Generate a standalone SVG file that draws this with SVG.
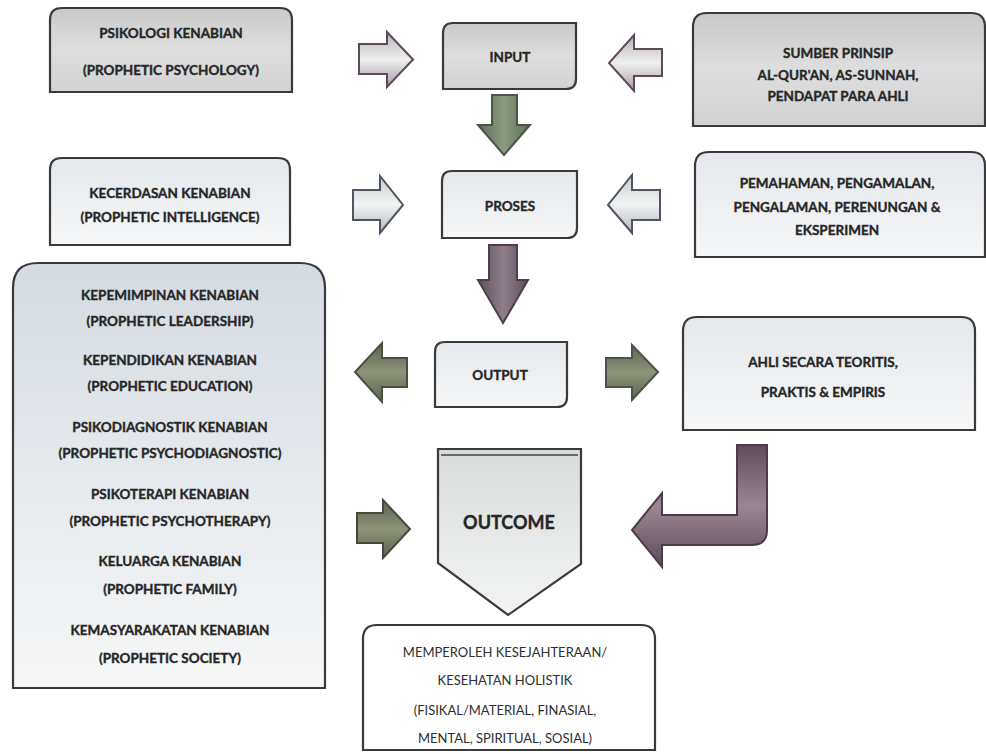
<svg xmlns="http://www.w3.org/2000/svg" width="986" height="754" viewBox="0 0 986 754">
<style>
.box{stroke:#3a3a3a;stroke-width:2.2}
.t{font-family:Lato,"Liberation Sans",sans-serif;font-weight:700;font-size:13.5px;fill:#262626;stroke:#262626;stroke-width:0.35;text-anchor:middle}
.r{font-family:Lato,"Liberation Sans",sans-serif;font-weight:400;font-size:13px;fill:#2e2e2e;text-anchor:middle}
.big{font-size:18px}
.arr{stroke-width:2;stroke-linejoin:miter}
</style>
<defs>
<linearGradient id="gGray" x1="0" y1="0" x2="0" y2="1">
<stop offset="0" stop-color="#c9c9c9"/><stop offset="0.5" stop-color="#dedede"/><stop offset="1" stop-color="#d2d2d2"/>
</linearGradient>
<linearGradient id="gLight" x1="0" y1="0" x2="0" y2="1">
<stop offset="0" stop-color="#e4e8ec"/><stop offset="1" stop-color="#f6f7f8"/>
</linearGradient>
<linearGradient id="gBig" x1="0" y1="0" x2="0" y2="1">
<stop offset="0" stop-color="#d5dbe2"/><stop offset="0.6" stop-color="#e8ecef"/><stop offset="1" stop-color="#f7f7f7"/>
</linearGradient>
<linearGradient id="gOut" x1="0" y1="0" x2="0" y2="1">
<stop offset="0" stop-color="#d9dcdc"/><stop offset="1" stop-color="#f3f4f4"/>
</linearGradient>
<linearGradient id="aPale" x1="0" y1="0" x2="0" y2="1">
<stop offset="0" stop-color="#b9aeb8"/><stop offset="0.5" stop-color="#eef0ee"/><stop offset="1" stop-color="#a898a6"/>
</linearGradient>
<linearGradient id="aPale2" x1="0" y1="0" x2="0" y2="1">
<stop offset="0" stop-color="#c8cfd0"/><stop offset="0.5" stop-color="#f2f3f3"/><stop offset="1" stop-color="#b4b6c0"/>
</linearGradient>
<linearGradient id="aGreen" x1="0" y1="0" x2="1" y2="0">
<stop offset="0" stop-color="#5f6d58"/><stop offset="0.5" stop-color="#8d9a82"/><stop offset="1" stop-color="#5f6d58"/>
</linearGradient>
<linearGradient id="aPurp" x1="0" y1="0" x2="1" y2="0">
<stop offset="0" stop-color="#5e4f5e"/><stop offset="0.5" stop-color="#8e7f8a"/><stop offset="1" stop-color="#5e4f5e"/>
</linearGradient>
<linearGradient id="aOlive" x1="0" y1="0" x2="0" y2="1">
<stop offset="0" stop-color="#5c6350"/><stop offset="0.5" stop-color="#8e9478"/><stop offset="1" stop-color="#5c6350"/>
</linearGradient>
<linearGradient id="aMauve" x1="0" y1="0" x2="0" y2="1">
<stop offset="0" stop-color="#5f4c5a"/><stop offset="0.5" stop-color="#9a8794"/><stop offset="1" stop-color="#5f4c5a"/>
</linearGradient>
</defs>
<rect width="986" height="754" fill="#ffffff"/>

<g id="psikologi">
<path class="box" fill="url(#gGray)" d="M50,20 Q50,8 62,8 H280 Q292,8 292,20 V92 H50 Z"/>
<text class="t" x="171" y="38">PSIKOLOGI KENABIAN</text>
<text class="t" x="171" y="75">(PROPHETIC PSYCHOLOGY)</text>
</g>

<g id="input">
<path class="box" fill="url(#gGray)" d="M443,33 Q443,23 453,23 H576 V79 Q576,89 566,89 H443 Z"/>
<text class="t" x="510" y="62">INPUT</text>
</g>

<g id="sumber">
<path class="box" fill="url(#gGray)" d="M693,27 Q693,13 707,13 H971 Q985,13 985,27 V126 H693 Z"/>
<text class="t" x="838" y="58">SUMBER PRINSIP</text>
<text class="t" x="838" y="80">AL-QUR'AN, AS-SUNNAH,</text>
<text class="t" x="838" y="101">PENDAPAT PARA AHLI</text>
</g>

<g id="kecerdasan">
<path class="box" fill="url(#gLight)" d="M50,170 Q50,158 62,158 H278 Q290,158 290,170 V245 H50 Z"/>
<text class="t" x="170" y="198">KECERDASAN KENABIAN</text>
<text class="t" x="170" y="222">(PROPHETIC INTELLIGENCE)</text>
</g>

<g id="proses">
<path class="box" fill="url(#gLight)" d="M442,181 Q442,171 452,171 H577 V228 Q577,238 567,238 H442 Z"/>
<text class="t" x="510" y="211">PROSES</text>
</g>

<g id="pemahaman">
<path class="box" fill="url(#gLight)" d="M695,166 Q695,152 709,152 H971 Q985,152 985,166 V257 H695 Z"/>
<text class="t" x="837" y="188">PEMAHAMAN, PENGAMALAN,</text>
<text class="t" x="837" y="212">PENGALAMAN, PERENUNGAN &amp;</text>
<text class="t" x="837" y="235">EKSPERIMEN</text>
</g>

<g id="kenabian-list">
<path class="box" fill="url(#gBig)" d="M13,288 Q13,263 38,263 H300 Q325,263 325,288 V688 H13 Z"/>
<text class="t" x="170" y="300">KEPEMIMPINAN KENABIAN</text>
<text class="t" x="170" y="326">(PROPHETIC LEADERSHIP)</text>
<text class="t" x="170" y="365">KEPENDIDIKAN KENABIAN</text>
<text class="t" x="170" y="391">(PROPHETIC EDUCATION)</text>
<text class="t" x="170" y="432">PSIKODIAGNOSTIK KENABIAN</text>
<text class="t" x="170" y="458">(PROPHETIC PSYCHODIAGNOSTIC)</text>
<text class="t" x="170" y="499">PSIKOTERAPI KENABIAN</text>
<text class="t" x="170" y="526">(PROPHETIC PSYCHOTHERAPY)</text>
<text class="t" x="170" y="566">KELUARGA KENABIAN</text>
<text class="t" x="170" y="594">(PROPHETIC FAMILY)</text>
<text class="t" x="170" y="635">KEMASYARAKATAN KENABIAN</text>
<text class="t" x="170" y="663">(PROPHETIC SOCIETY)</text>
</g>

<g id="output">
<path class="box" fill="url(#gLight)" d="M435,352 Q435,342 445,342 H567 V397 Q567,407 557,407 H435 Z"/>
<text class="t" x="500" y="380">OUTPUT</text>
</g>

<g id="ahli">
<path class="box" fill="url(#gLight)" d="M683,331 Q683,317 697,317 H961 Q975,317 975,331 V430 H683 Z"/>
<text class="t" x="823" y="367">AHLI SECARA TEORITIS,</text>
<text class="t" x="823" y="397">PRAKTIS &amp; EMPIRIS</text>
</g>

<g id="outcome">
<polygon class="box" fill="url(#gOut)" points="438,449 581,449 581,564 508,615 438,563"/>
<line x1="441" y1="455" x2="578" y2="455" stroke="#6a6a6a" stroke-width="2"/>
<text class="t big" x="509" y="529">OUTCOME</text>
</g>

<g id="kesejahteraan">
<path class="box" fill="#ffffff" d="M363,639 Q363,625 377,625 H641 Q655,625 655,639 V750 H363 Z"/>
<text class="r" x="505" y="657">MEMPEROLEH KESEJAHTERAAN/</text>
<text class="r" x="505" y="685">KESEHATAN HOLISTIK</text>
<text class="r" x="505" y="715">(FISIKAL/MATERIAL, FINASIAL,</text>
<text class="r" x="505" y="743">MENTAL, SPIRITUAL, SOSIAL)</text>
</g>

<g id="connectors">
<polygon class="arr" fill="url(#aPale)" stroke="#5b4a5a" points="359,44 387,44 387,32 413,59.5 387,87 387,74 359,74"/>
<polygon class="arr" fill="url(#aPale)" stroke="#5b4a5a" points="662,49 634,49 634,35 609,63 634,91 634,76 662,76"/>
<polygon class="arr" fill="url(#aGreen)" stroke="#4a5545" points="492,95 517,95 517,125 530,125 504,155 478,125 492,125"/>
<polygon class="arr" fill="url(#aPale2)" stroke="#4f5560" points="353,190 380,190 380,176 403,205 380,233 380,220 353,220"/>
<polygon class="arr" fill="url(#aPale2)" stroke="#4f5560" points="660,190 632,190 632,175 608,205 632,233 632,220 660,220"/>
<polygon class="arr" fill="url(#aPurp)" stroke="#4d404c" points="489,245 517,245 517,280 528,280 503,323 478,280 489,280"/>
<polygon class="arr" fill="url(#aOlive)" stroke="#4a5040" points="407,358 382,358 382,343 355,372 382,402 382,387 407,387"/>
<polygon class="arr" fill="url(#aOlive)" stroke="#4a5548" points="606,358 632,358 632,345 658,372 632,400 632,387 606,387"/>
<polygon class="arr" fill="url(#aOlive)" stroke="#45483a" points="357,513 383,513 383,500 410,529 383,558 383,543 357,543"/>
<path class="arr" fill="url(#aMauve)" stroke="#4d3c48" d="M737,445 H767 V530 Q767,545 752,545 H662 V567 L632,530 L662,493 V515 H737 Z"/>
</g>
</svg>
